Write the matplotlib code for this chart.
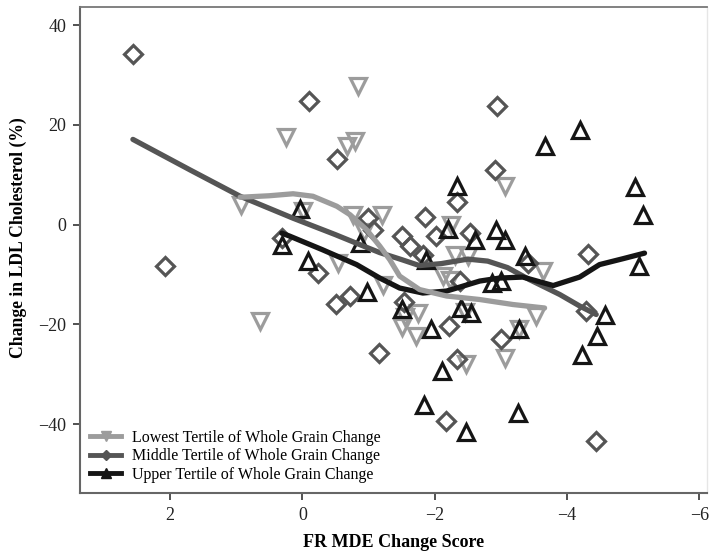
import matplotlib
matplotlib.use("Agg")
import matplotlib.pyplot as plt
from matplotlib.lines import Line2D

plt.rcParams['font.family'] = ['Liberation Serif', 'DejaVu Serif']

# Observed changes (FR MDE change score, % change in LDL cholesterol) by tertile
low_x = [0.93, 0.25, -0.84, -0.67, -0.79, -0.01, -0.77, -1.20, -0.54, 0.64,
         -1.22, -3.06, -2.25, -3.63, -2.30, -2.50, -3.53, -3.27, -3.06, -2.47,
         -1.72, -1.50, -1.74, -1.55, -2.45, -2.13, -2.23, -0.93]
low_y = [4.0, 17.5, 27.8, 15.7, 16.7, 2.7, 2.0, 2.0, -7.7, -19.3,
         -12.0, 7.7, 0.0, -9.3, -6.0, -6.3, -18.3, -21.0, -26.7, -28.0,
         -22.3, -20.5, -17.8, -18.6, -17.5, -10.3, -11.0, -1.5]

mid_x = [2.56, -0.10, -0.52, -0.99, -1.07, 0.31, 2.08, -0.24, -0.51, -0.72,
         -1.16, -2.94, -2.91, -2.34, -1.85, -1.51, -1.62, -2.02, -2.54, -1.82,
         -3.41, -4.31, -4.28, -3.00, -4.43, -2.17, -2.34, -2.21, -1.53, -2.38]
mid_y = [34.2, 24.8, 13.1, 1.3, -1.0, -2.7, -8.3, -9.7, -15.9, -14.3,
         -25.8, 23.8, 11.0, 4.5, 1.6, -2.2, -4.3, -2.3, -1.7, -6.0,
         -7.7, -5.8, -17.3, -22.9, -43.3, -39.3, -26.9, -20.3, -15.5, -11.3]

up_x = [0.04, -0.87, 0.30, -0.09, -0.98, -4.19, -3.67, -5.02, -5.14, -2.33,
        -2.20, -2.61, -2.93, -3.06, -3.36, -5.08, -4.58, -4.45, -4.22, -3.27,
        -3.26, -2.47, -1.84, -2.11, -1.94, -1.50, -2.40, -2.55, -2.86, -3.00,
        -1.87]
up_y = [3.1, -3.7, -4.0, -7.3, -13.5, 19.0, 15.7, 7.5, 1.9, 7.7,
        -0.9, -3.0, -1.0, -3.0, -6.2, -8.2, -18.2, -22.3, -26.1, -21.0,
        -37.7, -41.5, -36.2, -29.3, -20.9, -17.0, -16.7, -17.7, -11.7, -11.3,
        -7.0]

# Smoothed trend for each tertile
low_fit_x = [0.94, 0.50, 0.14, -0.16, -0.52, -0.72, -0.97, -1.17, -1.32, -1.47,
             -1.77, -2.18, -2.68, -3.18, -3.66]
low_fit_y = [5.5, 5.8, 6.2, 5.7, 3.7, 2.0, -1.0, -4.3, -7.0, -10.3,
             -13.0, -14.3, -15.0, -16.0, -16.7]

mid_fit_x = [2.56, 1.70, 0.94, 0.14, -0.50, -0.87, -1.17, -1.50, -1.77, -2.10,
             -2.50, -2.80, -3.10, -3.43, -3.89, -4.19, -4.44]
mid_fit_y = [17.1, 11.0, 5.7, 1.3, -2.0, -4.0, -5.6, -7.0, -8.2, -7.8,
             -6.9, -7.3, -8.6, -11.0, -14.0, -16.3, -18.0]

up_fit_x = [0.31, 0.19, -0.30, -0.82, -1.17, -1.47, -1.82, -2.18, -2.68, -2.98,
            -3.33, -3.79, -4.19, -4.49, -4.85, -5.17]
up_fit_y = [-1.7, -2.3, -5.0, -8.0, -10.7, -12.7, -13.7, -13.3, -11.3, -10.7,
            -10.5, -12.2, -10.5, -8.0, -6.8, -5.7]

labels = ["Lowest Tertile of Whole Grain Change",
          "Middle Tertile of Whole Grain Change",
          "Upper Tertile of Whole Grain Change"]
colors = ["#9c9c9c", "#555555", "#151515"]

fig = plt.figure(figsize=(7.09, 5.54), dpi=100)
ax = fig.add_axes([0.1128, 0.110, 0.884, 0.877])

ax.plot(low_x, low_y, linestyle='none', marker='v', markersize=11,
        markerfacecolor='none', markeredgecolor=colors[0], markeredgewidth=2.3)
ax.plot(mid_x, mid_y, linestyle='none', marker='D', markersize=9.5,
        markerfacecolor='none', markeredgecolor=colors[1], markeredgewidth=2.3)
ax.plot(up_x, up_y, linestyle='none', marker='^', markersize=11,
        markerfacecolor='none', markeredgecolor=colors[2], markeredgewidth=2.3)

ax.plot(mid_fit_x, mid_fit_y, color=colors[1], lw=3.8, solid_capstyle='round')
ax.plot(up_fit_x, up_fit_y, color=colors[2], lw=3.8, solid_capstyle='round')
ax.plot(low_fit_x, low_fit_y, color=colors[0], lw=3.8, solid_capstyle='round')

ax.set_xlim(3.36, -6.11)
ax.set_ylim(-53.8, 43.6)
ax.set_xticks([2, 0, -2, -4, -6])
ax.set_yticks([-40, -20, 0, 20, 40])
ax.set_xticklabels(['2', '0', '\u22122', '\u22124', '\u22126'])
ax.set_yticklabels(['\u221240', '\u221220', '0', '20', '40'])
ax.tick_params(axis='both', direction='out', length=5, width=1.2,
               color='#333333', labelsize=13, labelcolor='#222222', pad=5)

for side in ['left', 'bottom']:
    ax.spines[side].set_color('#666666')
    ax.spines[side].set_linewidth(1.5)
ax.spines['top'].set_color('#777777')
ax.spines['top'].set_linewidth(1.3)
ax.spines['right'].set_color('#e6e6e6')
ax.spines['right'].set_linewidth(1.0)

ax.set_xlabel("FR MDE Change Score", fontsize=13, fontweight='bold', labelpad=7)
ax.set_ylabel("Change in LDL Cholesterol (%)", fontsize=12.7, fontweight='bold')
ax.yaxis.set_label_coords(-0.085, 0.526)

handles = [
    Line2D([], [], color=colors[0], lw=3.5, marker='v', markersize=7,
           markerfacecolor=colors[0], markeredgecolor=colors[0]),
    Line2D([], [], color=colors[1], lw=3.5, marker='D', markersize=5,
           markerfacecolor=colors[1], markeredgecolor=colors[1]),
    Line2D([], [], color=colors[2], lw=3.5, marker='^', markersize=7,
           markerfacecolor=colors[2], markeredgecolor=colors[2]),
]
ax.legend(handles, labels, loc='lower left', frameon=False, fontsize=11.5,
          handlelength=1.9, handletextpad=0.7, labelspacing=0.15,
          borderaxespad=0.25, bbox_to_anchor=(0.0, 0.0))

fig.savefig("out.png", dpi=100)
